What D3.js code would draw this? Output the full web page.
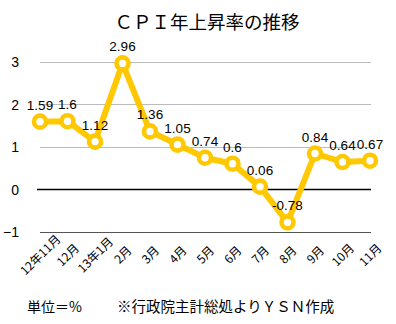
<!DOCTYPE html>
<html><head><meta charset="utf-8">
<script src="https://cdn.jsdelivr.net/npm/d3@7"></script>
<style>body{margin:0;background:#fff}svg{display:block}</style>
</head><body>
<svg id="c" width="396" height="324"></svg>
<script>
const categories = ["12年11月","12月","13年1月","2月","3月","4月","5月","6月","7月","8月","9月","10月","11月"];
const values = [1.59,1.6,1.12,2.96,1.36,1.05,0.74,0.6,0.06,-0.78,0.84,0.64,0.67];
const yTicks = [-1,0,1,2,3];
const title = "ＣＰＩ年上昇率の推移";
const footLeft = "単位＝%";
const footRight = "※行政院主計総処よりＹＳＮ作成";

const svg = d3.select("#c");
const jp = "'Noto Sans CJK JP','Liberation Sans',sans-serif";
const lat = "'Liberation Sans',Arial,sans-serif";
const x = d3.scalePoint().domain(categories).range([40,370]);
const y = d3.scaleLinear().domain([-1,3]).range([231.7,61.7]);
const col = "#FFC800";

svg.append("text").attr("x",207).attr("y",29).attr("text-anchor","middle")
  .attr("font-family",jp).attr("font-size",18.5).attr("fill","#000").text(title);

// grid
svg.append("g").selectAll("line").data(yTicks).join("line")
  .attr("x1",d=>d===0?37:40).attr("x2",371)
  .attr("y1",d=>Math.round(y(d))+0.5).attr("y2",d=>Math.round(y(d))+0.5)
  .attr("stroke",d=>d===0?"#000":(d===-1?"#555":"#bbb")).attr("stroke-width",d=>d===0?1.3:1);

// y tick labels
const yAxis = d3.axisLeft(y).tickValues(yTicks).tickSize(0).tickPadding(0).tickFormat(d3.format("d"));
const ga = svg.append("g").attr("transform","translate(19,0)").call(yAxis);
ga.select(".domain").remove();
ga.selectAll("text").attr("font-family",lat).attr("font-size",14).attr("fill","#000").attr("dy","0.35em");

// line
svg.append("path").datum(values)
  .attr("d",d3.line().x((d,i)=>x(categories[i])).y(d=>y(d)))
  .attr("fill","none").attr("stroke",col).attr("stroke-width",6).attr("stroke-linejoin","round");

svg.append("g").selectAll("circle").data(values).join("circle")
  .attr("cx",(d,i)=>x(categories[i])).attr("cy",d=>y(d)).attr("r",6)
  .attr("fill","#fff").attr("stroke",col).attr("stroke-width",4.6);

// data labels
svg.append("g").selectAll("text").data(values).join("text")
  .attr("x",(d,i)=>x(categories[i])).attr("y",d=>y(d)-12)
  .attr("text-anchor","middle").attr("font-family",lat).attr("font-size",13.5).attr("fill","#000")
  .text(d=>String(d));

// x labels (centered on tick, rotated -45)
const xAxis = d3.axisBottom(x).tickSize(0).tickPadding(0);
const gx = svg.append("g").attr("transform","translate(0,255)").call(xAxis);
gx.select(".domain").remove();
gx.selectAll("text").attr("font-family",jp).attr("font-size",12).attr("fill","#000")
  .attr("text-anchor","middle").attr("y",0).attr("dy","0.35em")
  .attr("transform","rotate(-45)");

svg.append("text").attr("x",27).attr("y",312).attr("font-family",jp).attr("font-size",14).attr("fill","#000").text(footLeft);
svg.append("text").attr("x",117).attr("y",312).attr("font-family",jp).attr("font-size",14.5).attr("fill","#000").text(footRight);
</script>
</body></html>
